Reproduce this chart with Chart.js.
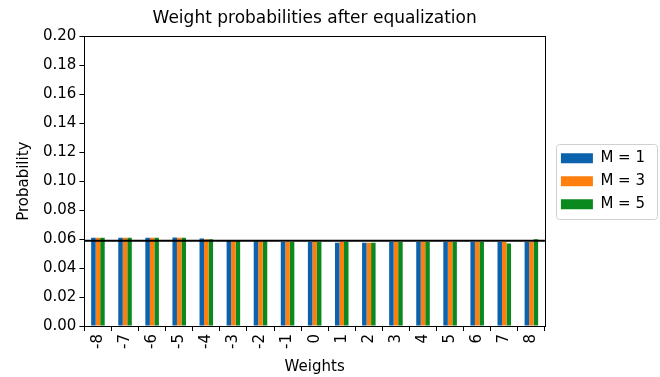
<!DOCTYPE html>
<html>
<head>
<meta charset="utf-8">
<script src="https://cdn.jsdelivr.net/npm/chart.js@4/dist/chart.umd.min.js"></script>
<style>
  html, body { margin: 0; padding: 0; background: #fff; }
  #wrap { width: 660px; height: 377px; }
</style>
</head>
<body>
<div id="wrap"><canvas id="chart" width="660" height="377"></canvas></div>
<script>
const weights = ['-8', '-7', '-6', '-5', '-4', '-3', '-2', '-1', '0', '1', '2', '3', '4', '5', '6', '7', '8'];
const probM1 = [0.061, 0.061, 0.061, 0.0612, 0.0605, 0.059, 0.0585, 0.058, 0.058, 0.0575, 0.0575, 0.058, 0.058, 0.058, 0.058, 0.058, 0.058];
const probM3 = [0.061, 0.061, 0.061, 0.061, 0.060, 0.059, 0.0585, 0.058, 0.0585, 0.058, 0.0575, 0.058, 0.058, 0.058, 0.058, 0.058, 0.058];
const probM5 = [0.061, 0.061, 0.061, 0.061, 0.060, 0.059, 0.0585, 0.058, 0.058, 0.058, 0.0575, 0.058, 0.058, 0.058, 0.058, 0.057, 0.060];
const uniformLevel = 1 / 17;

const FONT = 'DejaVu Sans';

// full axes frame + horizontal reference line like matplotlib's axhline, boxed legend
const framePlugin = {
  id: 'frame',
  afterDatasetsDraw(chart) {
    const { ctx, chartArea: a, scales } = chart;
    const y = scales.y.getPixelForValue(uniformLevel);
    ctx.save();
    ctx.strokeStyle = '#000';
    ctx.lineWidth = 2;
    ctx.beginPath();
    ctx.moveTo(a.left, y);
    ctx.lineTo(a.right, y);
    ctx.stroke();
    ctx.lineWidth = 1;
    ctx.strokeRect(Math.round(a.left) + 0.5, Math.round(a.top) + 0.5,
      Math.round(a.right - a.left), Math.round(a.bottom - a.top));
    ctx.restore();
  },
  afterDraw(chart) {
    const boxes = chart.legend.legendHitBoxes;
    if (!boxes || !boxes.length) return;
    const left = Math.min(...boxes.map(b => b.left)) - 5;
    const right = Math.max(...boxes.map(b => b.left + b.width)) + 12;
    const top = Math.min(...boxes.map(b => b.top)) - 7;
    const bottom = Math.max(...boxes.map(b => b.top + b.height)) + 7;
    const { ctx } = chart;
    ctx.save();
    ctx.strokeStyle = '#d0d0d0';
    ctx.lineWidth = 1;
    ctx.beginPath();
    ctx.roundRect(Math.round(left) + 0.5, Math.round(top) + 0.5, Math.round(right - left), Math.round(bottom - top), 3);
    ctx.stroke();
    ctx.restore();
  }
};

new Chart(document.getElementById('chart'), {
  type: 'bar',
  data: {
    labels: weights,
    datasets: [
      { label: 'M = 1', data: probM1, backgroundColor: '#0c63ad' },
      { label: 'M = 3', data: probM3, backgroundColor: '#ff7f0e' },
      { label: 'M = 5', data: probM5, backgroundColor: '#0a8a1e' }
    ]
  },
  options: {
    responsive: false,
    animation: false,
    datasets: { bar: { categoryPercentage: 0.5, barPercentage: 1.0 } },
    layout: { padding: { left: 15, right: 5, top: 2, bottom: 1 } },
    plugins: {
      title: {
        display: true,
        text: 'Weight probabilities after equalization',
        fullSize: false,
        color: '#000',
        font: { family: FONT, size: 17, weight: 'normal' },
        padding: { top: 6, bottom: 8 }
      },
      legend: {
        position: 'right',
        fullSize: false,
        labels: {
          color: '#000',
          font: { family: FONT, size: 15 },
          boxWidth: 32,
          boxHeight: 10,
          padding: 8
        }
      },
      tooltip: { enabled: false }
    },
    scales: {
      x: {
        grid: { display: true, drawOnChartArea: false, drawTicks: true, tickLength: 5, color: '#000' },
        border: { color: '#000' },
        ticks: { color: '#000', font: { family: FONT, size: 15 }, minRotation: 90, maxRotation: 90, padding: 3 },
        title: { display: true, text: 'Weights', color: '#000', font: { family: FONT, size: 15 }, padding: { top: 6, bottom: 0 } }
      },
      y: {
        min: 0,
        max: 0.2,
        grid: { display: true, drawOnChartArea: false, drawTicks: true, tickLength: 5, color: '#000' },
        border: { color: '#000' },
        ticks: { stepSize: 0.02, color: '#000', font: { family: FONT, size: 15 }, padding: 3,
          callback: v => v.toFixed(2) },
        title: { display: true, text: 'Probability', color: '#000', font: { family: FONT, size: 15 }, padding: { top: 0, bottom: 7 } }
      },
      // empty spacer between the axes frame and the legend
      gap: {
        type: 'linear',
        position: 'right',
        display: true,
        grid: { display: false },
        border: { display: false },
        ticks: { display: false },
        afterFit(scale) { scale.width = 8; }
      }
    }
  },
  plugins: [framePlugin]
});
</script>
</body>
</html>
